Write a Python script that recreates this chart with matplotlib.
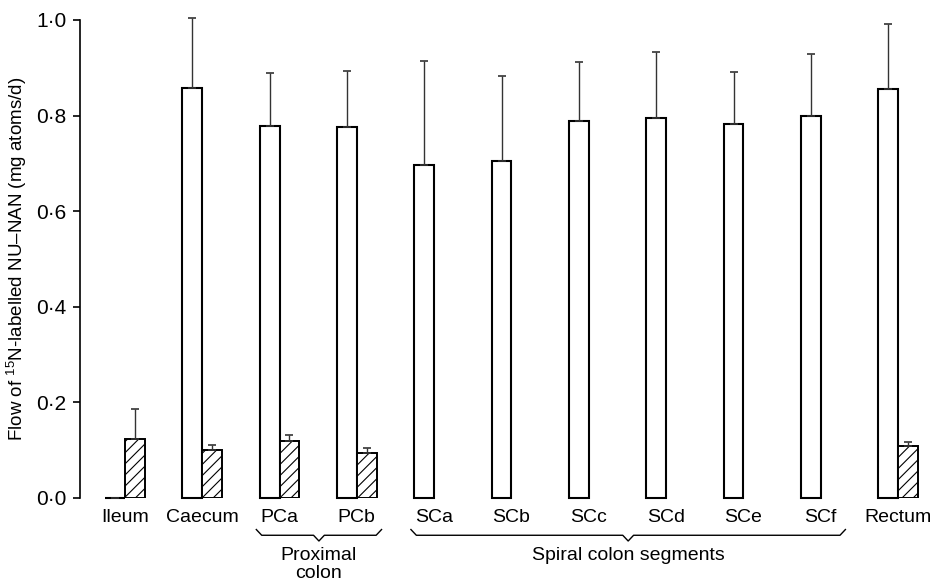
import matplotlib
matplotlib.use("Agg")
import matplotlib.pyplot as plt
import matplotlib.transforms as mtransforms
import numpy as np

plt.rcParams['font.family'] = ['Liberation Sans', 'DejaVu Sans']
plt.rcParams['mathtext.fontset'] = 'custom'
plt.rcParams['mathtext.rm'] = 'Liberation Sans'
plt.rcParams['hatch.linewidth'] = 0.8

# segments along the gut
segments = ['Ileum', 'Caecum', 'PCa', 'PCb', 'SCa', 'SCb', 'SCc', 'SCd',
            'SCe', 'SCf', 'Rectum']

# open bars (mean) and upper error bar value
open_mean = [0.0, 0.858, 0.779, 0.777, 0.697, 0.706, 0.788, 0.795, 0.782, 0.800, 0.855]
open_err = [np.nan, 0.146, 0.110, 0.117, 0.217, 0.176, 0.124, 0.137, 0.109, 0.128, 0.136]

# hatched bars (mean) and upper error bar value; none for spiral colon
hatch_mean = [0.123, 0.101, 0.120, 0.095, np.nan, np.nan, np.nan, np.nan, np.nan, np.nan, 0.109]
hatch_err = [0.063, 0.010, 0.011, 0.009, np.nan, np.nan, np.nan, np.nan, np.nan, np.nan, 0.009]

y_ticks = [0.0, 0.2, 0.4, 0.6, 0.8, 1.0]
y_ticklabels = ['0·0', '0·2', '0·4', '0·6', '0·8', '1·0']

# braces under the axis: (label, first segment, last segment)
groups = [('Proximal\ncolon', 'PCa', 'PCb'),
          ('Spiral colon segments', 'SCa', 'SCf')]

x = np.arange(len(segments))
w = 0.255

fig = plt.figure(figsize=(9.34, 5.86), dpi=100)
ax = fig.add_axes([0.0857, 0.1502, 0.9047, 0.8157])

open_bars = ax.bar(x - w / 2, open_mean, w, color='white', edgecolor='black',
                   linewidth=1.5)
ax.bar(x + w / 2, hatch_mean, w, color='white', edgecolor='black', linewidth=1.4,
       hatch='///')

om = np.array(open_mean)
oe = np.array(open_err)
eb1 = ax.errorbar(x - w / 2, om, yerr=[np.zeros_like(oe), oe], fmt='none',
                  ecolor='#333333', elinewidth=1.0, capsize=3, capthick=1.2)
hm = np.array(hatch_mean)
he = np.array(hatch_err)
eb2 = ax.errorbar(x + w / 2, hm, yerr=[np.zeros_like(he), he], fmt='none',
                  ecolor='#333333', elinewidth=1.0, capsize=3, capthick=1.2)
for eb in (eb1, eb2):
    for art in eb.lines[1] + eb.lines[2]:
        art.set_clip_on(False)
for b in open_bars:
    b.set_clip_on(False)

ax.set_xlim(-0.58, 10.35)
ax.set_ylim(0, 1.0)
ax.set_yticks(y_ticks)
ax.set_yticklabels(y_ticklabels, fontsize=15)
ax.tick_params(axis='y', direction='out', length=5, width=1.2, pad=5)
ax.set_xticks(x)
ax.set_xticklabels(segments, fontsize=14)
ax.tick_params(axis='x', length=0, pad=8)

for s in ['top', 'right', 'bottom']:
    ax.spines[s].set_visible(False)
ax.spines['left'].set_linewidth(1.2)

ax.set_ylabel(r'Flow of $^{15}$N-labelled NU–NAN (mg atoms/d)', fontsize=13.5)
ax.yaxis.set_label_coords(-0.06, 0.5)

# curly braces grouping the colon segments
trans = mtransforms.blended_transform_factory(ax.transData, ax.transAxes)
for label, first, last in groups:
    x0 = segments.index(first) - 0.3
    x1 = segments.index(last) + 0.32
    xm = (x0 + x1) / 2
    yb = -0.078
    d = 0.07
    bx = [x0, x0 + d, xm - d, xm, xm + d, x1 - d, x1]
    by = [yb + 0.012, yb, yb, yb - 0.012, yb, yb, yb + 0.012]
    ax.plot(bx, by, color='black', linewidth=1.0, transform=trans, clip_on=False)
    ax.text(xm, yb - 0.024, label, transform=trans, ha='center', va='top',
            fontsize=14, linespacing=1.1)

fig.savefig('out.png', dpi=100)
